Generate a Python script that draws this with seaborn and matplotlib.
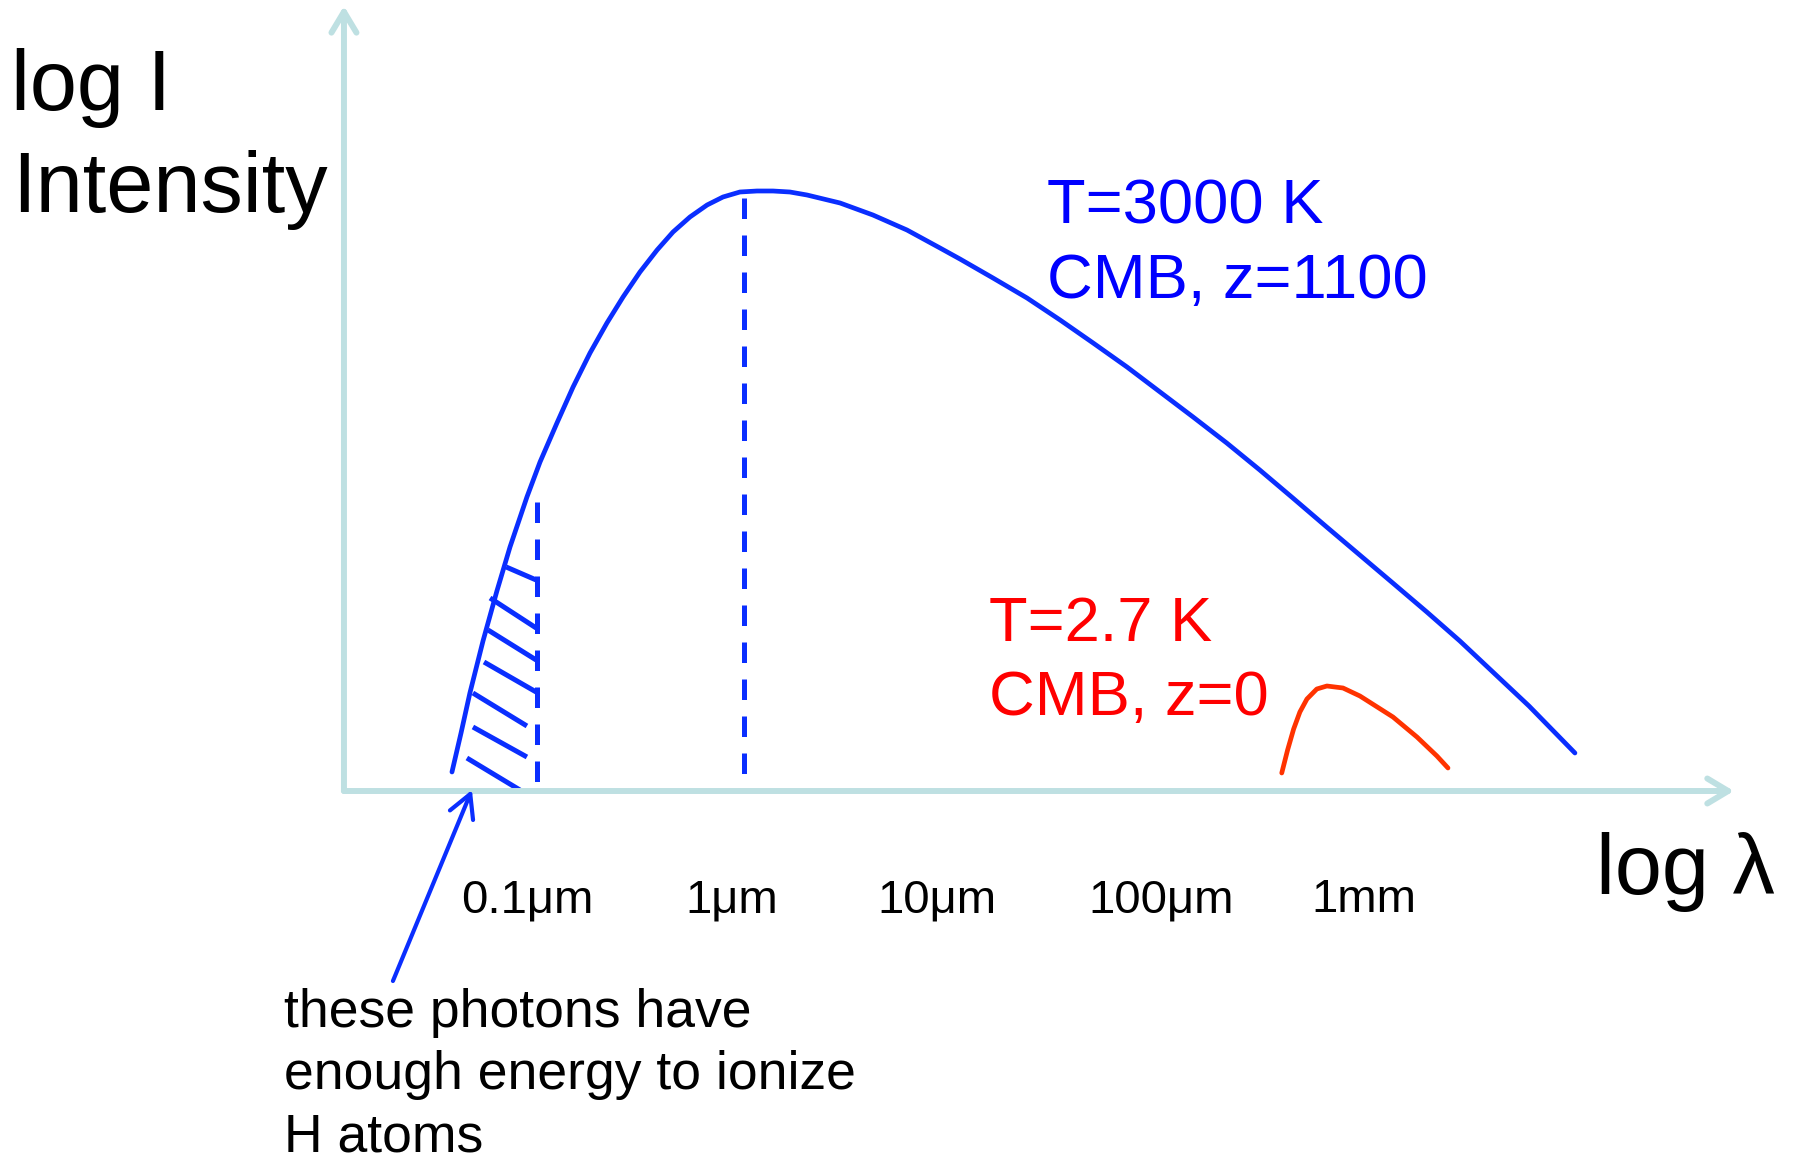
import matplotlib.pyplot as plt
import matplotlib.transforms as mtransforms
import seaborn as sns

# x = log10(wavelength / micron), y = log intensity (arbitrary units)
blue_logwl = [-1.406, -1.361, -1.317, -1.252, -1.183, -1.118, -1.034, -0.969, -0.885, -0.805,
              -0.721, -0.637, -0.557, -0.473, -0.388, -0.309, -0.225, -0.140, -0.061, 0.023,
              0.108, 0.187, 0.271, 0.356, 0.520, 0.683, 0.852, 1.016, 1.115, 1.279,
              1.448, 1.612, 1.776, 1.944, 2.108, 2.272, 2.439, 2.603, 2.767, 2.935,
              3.099, 3.263, 3.432, 3.596, 3.939, 4.167]
blue_logI = [0.19, 0.58, 0.98, 1.50, 2.00, 2.44, 2.94, 3.29, 3.68, 4.04,
             4.38, 4.68, 4.94, 5.19, 5.41, 5.59, 5.74, 5.86, 5.94, 5.99,
             6.00, 6.00, 5.99, 5.96, 5.88, 5.76, 5.61, 5.43, 5.32, 5.13,
             4.93, 4.71, 4.48, 4.24, 3.99, 3.74, 3.48, 3.21, 2.93, 2.64,
             2.36, 2.08, 1.79, 1.50, 0.85, 0.38]

red_logwl = [2.712, 2.741, 2.771, 2.802, 2.837, 2.886, 2.936, 3.016, 3.100, 3.264, 3.383, 3.482, 3.537]
red_logI = [0.18, 0.41, 0.62, 0.79, 0.92, 1.02, 1.05, 1.03, 0.95, 0.74, 0.54, 0.35, 0.23]

decades = [-1, 0, 1, 2, 3]
decade_labels = ['0.1μm', '1μm', '10μm', '100μm', '1mm']

# dashed markers: peak of the 3000 K curve and the ionisation edge
peak_logwl, peak_top, peak_bottom = 0.045, 5.93, 0.14
ion_logwl, ion_top, ion_bottom = -0.985, 2.89, 0.06

# hatch strokes under the curve, left of the ionisation edge
hatch_x0 = [-1.137, -1.217, -1.227, -1.247, -1.302, -1.302, -1.332]
hatch_y0 = [2.24, 1.93, 1.61, 1.29, 0.98, 0.64, 0.33]
hatch_x1 = [-0.988, -0.988, -0.988, -0.988, -1.034, -1.034, -1.069]
hatch_y1 = [2.11, 1.63, 1.31, 0.99, 0.65, 0.34, 0.01]

note_lines = ['these photons have', 'enough energy to ionize', 'H atoms']

BLUE = '#0A2EFF'
BLUE_TXT = '#0000FF'
RED = '#FF3300'
RED_TXT = '#FF0000'
TEAL = '#BEE0E2'

sns.set_style('white')
plt.rcParams['font.family'] = ['Liberation Sans', 'DejaVu Sans']
plt.rcParams['text.color'] = 'black'

fig = plt.figure(figsize=(17.98, 11.60), dpi=100)
ax = fig.add_axes([0, 0, 1, 1])
ax.set_xlim(-3.649, 5.274)
ax.set_ylim(-3.69, 7.91)

# axes drawn as arrows
x0, x_end, y_top = -1.942, 4.956, 7.85
arrow = dict(arrowstyle='->,head_length=0.5,head_width=0.3', lw=4.3, color=TEAL,
             shrinkA=0, shrinkB=0, mutation_scale=30)
ax.annotate('', xy=(x_end, 0), xytext=(x0, 0), arrowprops=arrow)
ax.annotate('', xy=(x0, y_top), xytext=(x0, 0), arrowprops=arrow)

for s in ax.spines.values():
    s.set_visible(False)
ax.spines['bottom'].set_position(('data', 0))
ax.set_xticks(decades, decade_labels)
ax.set_yticks([])
ax.tick_params(axis='x', direction='inout', length=46, width=4.3, color=TEAL,
               labelsize=34, labelcolor='black', pad=40)
# the hand-placed labels sit a little off their ticks
label_shift = [-6, -4, 0, 23, 24]
for lab, dx in zip(ax.get_xticklabels(), label_shift):
    lab.set_transform(lab.get_transform() +
                      mtransforms.ScaledTranslation(dx / 100, 0, fig.dpi_scale_trans))

# curves
sns.lineplot(x=blue_logwl, y=blue_logI, ax=ax, color=BLUE, linewidth=3.4, sort=False,
             solid_joinstyle='round')
sns.lineplot(x=red_logwl, y=red_logI, ax=ax, color=RED, linewidth=3.4, sort=False,
             solid_joinstyle='round')

ax.plot([peak_logwl, peak_logwl], [peak_top, peak_bottom], color=BLUE, lw=3.6,
        ls=(0, (4.1, 3.3)))
ax.plot([ion_logwl, ion_logwl], [ion_top, ion_bottom], color=BLUE, lw=3.6,
        ls=(0, (4.1, 3.3)))
for xa, ya, xb, yb in zip(hatch_x0, hatch_y0, hatch_x1, hatch_y1):
    ax.plot([xa, xb], [ya, yb], color=BLUE, lw=3.6, solid_capstyle='butt')

# labels
ax.text(-3.595, 6.81, 'log I', fontsize=61, va='baseline')
ax.text(-3.590, 5.79, 'Intensity', fontsize=61, va='baseline')
ax.text(4.271, -1.03, 'log λ', fontsize=61, va='baseline')

ax.text(1.545, 5.67, 'T=3000 K', fontsize=45.5, color=BLUE_TXT, va='baseline')
ax.text(1.545, 4.93, 'CMB, z=1100', fontsize=45.5, color=BLUE_TXT, va='baseline')
ax.text(1.259, 1.50, 'T=2.7 K', fontsize=45.5, color=RED_TXT, va='baseline')
ax.text(1.259, 0.76, 'CMB, z=0', fontsize=45.5, color=RED_TXT, va='baseline')

for i, line in enumerate(note_lines):
    ax.text(-2.239, -2.36 - 0.625 * i, line, fontsize=38.5, va='baseline')
ax.annotate('', xy=(-1.307, 0.01), xytext=(-1.699, -1.90),
            arrowprops=dict(arrowstyle='->,head_length=0.55,head_width=0.3', lw=3.0,
                            color=BLUE, shrinkA=0, shrinkB=0, mutation_scale=30))

fig.savefig('out.png', dpi=100)
